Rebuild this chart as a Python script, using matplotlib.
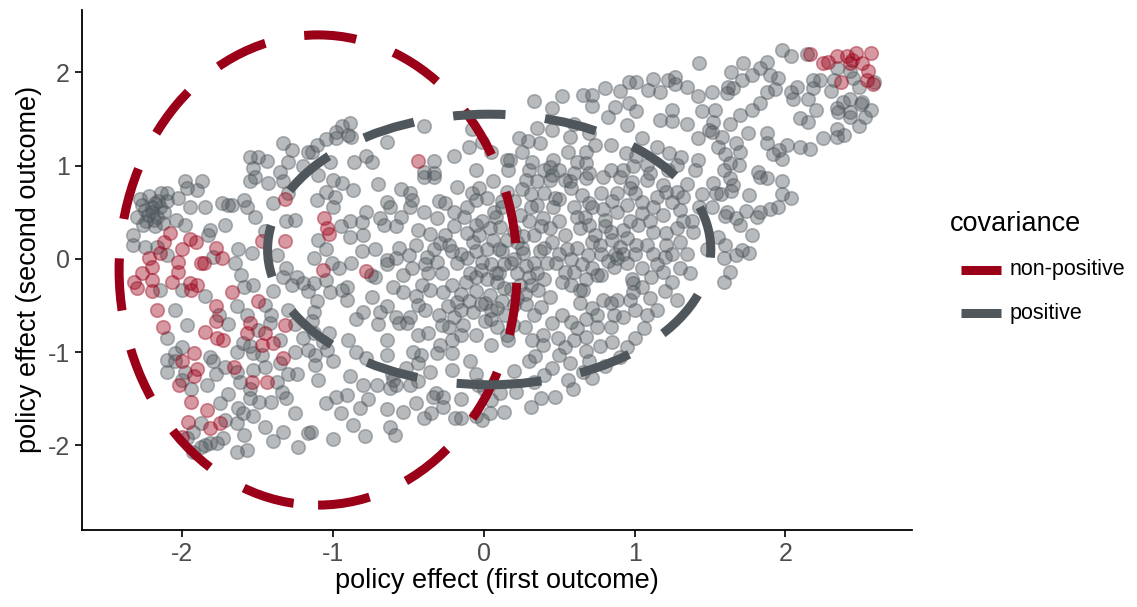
import matplotlib
matplotlib.use("Agg")
import numpy as np
from matplotlib import pyplot as plt
from matplotlib.patches import Ellipse
from matplotlib.lines import Line2D

plt.rcParams['font.family'] = ['Liberation Sans', 'DejaVu Sans']
plt.rcParams['axes.unicode_minus'] = False

RED = '#9a0018'
GREY = '#4f575c'

# simulated policy effects, (first outcome, second outcome)
positive_pts = [
    (-1.55, 1.09), (-1.50, 1.09), (-1.44, 1.05), (-1.33, 1.24), (-1.27, 1.17), (-1.53, 0.97),
    (-1.30, 1.04), (-1.20, 0.99), (-1.17, 1.14), (-1.35, 0.93),
    (-0.89, 1.46), (-0.94, 1.42), (-0.98, 1.36), (-0.90, 1.33), (-0.88, 1.31), (-1.05, 1.28),
    (-1.11, 1.22), (-0.98, 1.30), (-1.14, 1.14), (-1.02, 1.04), (-0.64, 1.25), (-0.40, 1.42),
    (-0.86, 1.04), (-0.78, 1.10), (-0.74, 1.04), (-0.33, 1.05), (-0.40, 0.93), (-0.33, 0.92),
    (-0.08, 1.39), (-0.01, 1.25), (-0.05, 0.95), (0.15, 1.06), (0.16, 0.95),
    (0.33, 1.69), (0.45, 1.62), (0.52, 1.74), (0.66, 1.76), (0.72, 1.76), (0.72, 1.64),
    (0.80, 1.83), (0.87, 1.63), (0.82, 1.52), (0.95, 1.43), (0.96, 1.67), (1.01, 1.58),
    (1.01, 1.90), (0.96, 1.89), (1.09, 1.81), (1.12, 1.93), (1.17, 1.79), (1.22, 1.92),
    (1.27, 1.95), (1.27, 1.87), (1.35, 1.84), (1.42, 1.74), (1.43, 2.10), (1.45, 1.58),
    (1.17, 1.49), (1.25, 1.60), (1.25, 1.48), (1.49, 1.38), (1.42, 1.30), (1.05, 1.29),
    (1.15, 1.20), (0.94, 1.13), (1.01, 1.10), (1.08, 1.01), (1.23, 1.13), (1.31, 1.09),
    (1.42, 1.06), (1.28, 1.01), (0.99, 0.99), (0.84, 1.22), (0.74, 1.22), (0.68, 1.15),
    (0.62, 1.04), (0.56, 1.15), (0.57, 1.31), (0.45, 1.38), (0.23, 1.30), (0.29, 1.26),
    (0.37, 1.24), (0.32, 1.04), (0.46, 1.06), (0.50, 0.95), (0.44, 0.98), (0.68, 1.03),
    (0.84, 0.95), (0.92, 0.95), (0.17, 1.06), (0.70, 0.92),
    (2.34, 2.05), (2.43, 2.01), (2.45, 1.94), (2.49, 1.84), (2.59, 1.90), (2.32, 1.92),
    (2.23, 1.92), (1.98, 2.24), (2.04, 2.17), (2.14, 2.19), (1.72, 2.10), (1.88, 2.11),
    (1.83, 2.05), (1.78, 1.97), (1.64, 2.00), (1.71, 1.92), (1.90, 1.97), (1.95, 1.94),
    (1.62, 1.84), (1.65, 1.83), (1.61, 1.78), (1.51, 1.79), (1.88, 1.79), (1.93, 1.82),
    (2.04, 1.79), (2.08, 1.84), (2.05, 1.71), (2.15, 1.71), (2.18, 1.92), (2.18, 1.83),
    (1.83, 1.67), (1.78, 1.60), (1.70, 1.54), (1.53, 1.60), (1.52, 1.47), (1.63, 1.44),
    (1.58, 1.31), (1.51, 1.36), (2.10, 1.51), (2.15, 1.47), (1.88, 1.35), (1.88, 1.24),
    (2.01, 1.22), (1.96, 1.17), (1.92, 1.12), (1.98, 1.07), (2.10, 1.20), (2.16, 1.18),
    (2.25, 1.29), (2.34, 1.39), (2.34, 1.31), (2.39, 1.33), (2.49, 1.42), (2.53, 1.52),
    (2.57, 1.60), (2.51, 1.68), (2.50, 1.66), (2.43, 1.71), (2.38, 1.68), (2.34, 1.62),
    (2.35, 1.57), (2.43, 1.57), (2.43, 1.52), (1.60, 1.12), (1.63, 1.03), (1.69, 1.01),
    (1.59, 0.95), (1.82, 0.93), (1.67, 1.24),
    (1.52, 0.81), (1.57, 0.69), (1.54, 0.70), (1.63, 0.87), (1.65, 0.79), (1.64, 0.73),
    (1.83, 0.88), (1.88, 0.87), (1.98, 0.83), (1.76, 0.68), (1.98, 0.69), (2.04, 0.65),
    (1.95, 0.56), (1.90, 0.53), (1.83, 0.50), (1.81, 0.45), (1.74, 0.51), (1.51, 0.55),
    (1.61, 0.50), (1.60, 0.46), (1.67, 0.44), (1.70, 0.36), (1.78, 0.25), (1.55, 0.23),
    (1.60, 0.15), (1.67, 0.04), (1.71, 0.09), (1.76, 0.06), (1.59, 0.01), (1.63, -0.14),
    (1.59, -0.25),
    (0.28, 0.85), (0.35, 0.83), (0.44, 0.85), (0.54, 0.85), (0.57, 0.83), (0.68, 0.87),
    (0.79, 0.88), (0.90, 0.88), (1.08, 0.85), (1.19, 0.79), (1.28, 0.72), (1.32, 0.66),
    (1.45, 0.69), (1.43, 0.55), (1.38, 0.40), (1.39, 0.29), (1.48, 0.10), (0.31, 0.69),
    (0.31, 0.55), (0.47, 0.65), (0.50, 0.64), (0.58, 0.76), (0.70, 0.60), (0.72, 0.55),
    (0.79, 0.53), (0.88, 0.71), (0.97, 0.76), (1.05, 0.61), (1.05, 0.49), (1.15, 0.66),
    (1.21, 0.72), (1.25, 0.61), (1.19, 0.47), (0.44, 0.33), (0.50, 0.40), (0.54, 0.26),
    (0.62, 0.45), (0.64, 0.33), (0.70, 0.36), (0.72, 0.18), (0.77, 0.15), (0.84, 0.29),
    (0.92, 0.31), (0.97, 0.40), (1.02, 0.36), (1.10, 0.40), (1.12, 0.29), (1.21, 0.28),
    (1.28, 0.33), (1.32, 0.40), (1.01, 0.15), (1.08, 0.15), (1.21, 0.15), (1.20, 0.02),
    (1.15, -0.06), (1.19, -0.14), (1.30, -0.10), (1.37, -0.15), (1.28, -0.44), (0.26, 0.06),
    (0.37, 0.08), (0.33, 0.26), (0.26, 0.24), (0.33, -0.04), (0.35, -0.15), (0.31, -0.28),
    (0.44, -0.41), (0.54, -0.14), (0.60, -0.14), (0.65, -0.06), (0.69, 0.04), (0.75, -0.17),
    (0.78, -0.17), (0.86, -0.09), (0.88, 0.01), (0.90, 0.13), (0.87, 0.05), (0.99, -0.26),
    (0.98, -0.22), (1.05, -0.30), (1.11, -0.19), (0.99, -0.36), (0.64, -0.33), (0.66, -0.33),
    (0.64, -0.47), (0.72, -0.53), (0.79, -0.44), (0.88, -0.44), (0.84, -0.47), (0.97, -0.44),
    (0.75, -0.60), (0.86, -0.60), (1.08, -0.60), (0.52, -0.60), (0.33, -0.60), (0.24, -0.28),
    (0.22, -0.42), (0.46, 0.55), (0.39, 0.44), (0.67, 0.45), (0.80, 0.42), (0.88, 0.50),
    (-1.10, 0.90), (-1.00, 0.85), (-0.94, 0.81), (-0.87, 0.74), (-1.05, 0.72), (-0.99, 0.66),
    (-1.11, 0.63), (-1.00, 0.56), (-0.64, 0.61), (-0.62, 0.56), (-0.49, 0.71), (-0.48, 0.63),
    (-0.49, 0.55), (-0.40, 0.88), (-0.33, 0.88), (-0.18, 0.77), (-0.03, 0.76), (-0.05, 0.63),
    (0.06, 0.83), (-0.26, 0.60), (-0.11, 0.55), (-0.13, 0.45), (-0.78, 0.50), (-0.69, 0.44),
    (-0.66, 0.36), (-0.58, 0.35), (-0.89, 0.40), (-0.81, 0.39), (-0.89, 0.23), (-0.81, 0.08),
    (-1.10, 0.20), (-1.05, 0.10), (-1.13, 0.01), (-1.01, -0.04), (-0.96, -0.10), (-1.05, -0.23),
    (-1.13, -0.26), (-1.02, -0.36), (-0.91, -0.30), (-0.94, -0.33), (-1.11, -0.45), (-0.91, -0.44),
    (-1.13, -0.57), (-0.80, -0.57), (-0.74, -0.41), (-0.72, -0.20), (-0.75, -0.17), (-0.69, -0.57),
    (-0.64, -0.51), (-0.64, -0.06), (-0.64, -0.01), (-0.56, 0.12), (-0.50, 0.04), (-0.54, -0.17),
    (-0.58, 0.01), (-0.44, 0.31), (-0.36, 0.27), (-0.31, 0.44), (-0.26, 0.26), (-0.29, 0.17),
    (-0.23, 0.15), (-0.21, 0.08), (-0.38, 0.02), (-0.39, -0.06), (-0.31, -0.03), (-0.37, -0.15),
    (-0.28, -0.15), (-0.11, 0.28), (-0.05, 0.36), (-0.01, 0.40), (0.04, 0.33), (0.11, 0.34),
    (-0.07, 0.18), (-0.05, 0.08), (-0.11, 0.01), (-0.01, -0.03), (0.05, -0.06), (0.12, 0.08),
    (0.13, -0.06), (-0.09, -0.15), (-0.05, -0.20), (0.09, -0.25), (0.13, -0.31), (0.04, -0.39),
    (-0.05, -0.35), (-0.21, -0.28), (-0.27, -0.36), (-0.41, -0.28), (-0.36, -0.33), (-0.54, -0.36),
    (-0.44, -0.49), (-0.39, -0.55), (-0.24, -0.51), (-0.18, -0.46), (-0.15, -0.55), (-0.07, -0.57),
    (0.01, -0.47), (0.09, -0.53), (0.14, -0.60), (-0.49, -0.62), (-0.58, -0.62),
    (-2.28, 0.64), (-2.22, 0.67), (-2.18, 0.60), (-2.15, 0.55), (-2.20, 0.50), (-2.25, 0.52),
    (-2.30, 0.45), (-2.24, 0.40), (-2.17, 0.45), (-2.12, 0.50), (-2.10, 0.62), (-2.14, 0.70),
    (-2.20, 0.56), (-2.26, 0.36), (-2.18, 0.35), (-2.13, 0.38), (-2.23, 0.47), (-2.27, 0.58),
    (-2.19, 0.42), (-2.16, 0.62), (-2.03, 0.65), (-2.04, 0.42), (-1.98, 0.36), (-2.33, 0.26),
    (-2.33, 0.15), (-2.25, 0.13), (-2.17, 0.13), (-2.10, 0.04), (-1.98, 0.83), (-1.87, 0.83),
    (-1.97, 0.76), (-1.90, 0.74), (-2.10, 0.71), (-1.82, 0.31), (-1.83, 0.26), (-1.80, 0.02),
    (-1.72, 0.36), (-1.70, 0.58), (-1.74, 0.60), (-1.67, 0.58), (-1.59, 0.63), (-1.57, 0.55),
    (-1.52, 0.45), (-1.55, 0.83), (-1.52, 0.88), (-1.43, 0.81), (-1.33, 0.83), (-1.31, 0.40),
    (-1.25, 0.42), (-1.63, 0.10), (-1.54, 0.06), (-1.37, 0.04), (-1.31, -0.10), (-1.24, -0.19),
    (-1.33, -0.20), (-1.27, -0.28), (-1.20, -0.26), (-1.17, -0.35), (-1.61, -0.17), (-1.53, -0.28),
    (-1.59, -0.30), (-2.15, -0.33), (-2.00, -0.33), (-1.41, -0.60), (-1.57, -0.60), (-1.64, -0.51),
    (-1.76, -0.60),
    (-1.97, -0.71), (-1.42, -0.69), (-1.50, -0.76), (-1.60, -0.90), (-1.64, -1.00), (-1.55, -0.93),
    (-2.00, -0.95), (-2.05, -1.01), (-2.10, -1.08), (-2.10, -1.21), (-1.98, -1.21), (-1.82, -1.05),
    (-1.80, -1.10), (-1.78, -1.24), (-1.84, -1.35), (-1.94, -1.40), (-1.72, -1.16), (-1.64, -1.21),
    (-1.62, -1.32), (-1.53, -1.19), (-1.53, -1.01), (-1.47, -1.03), (-1.45, -1.16), (-1.55, -1.40),
    (-1.55, -1.49), (-1.49, -1.54), (-1.63, -1.60), (-1.60, -1.65), (-1.53, -1.69), (-1.41, -1.54),
    (-1.35, -1.12), (-1.37, -1.32), (-1.34, -1.43), (-1.31, -1.49), (-1.30, -1.24), (-1.17, -0.98),
    (-1.17, -1.87), (-1.23, -2.02), (-1.33, -1.86), (-1.45, -1.80), (-1.57, -2.05), (-1.64, -2.07),
    (-1.59, -1.89), (-1.64, -1.76), (-1.72, -1.73), (-1.77, -1.97), (-1.82, -1.97), (-1.85, -2.00),
    (-1.88, -2.02), (-1.93, -2.07), (-1.88, -1.76), (-1.93, -1.86), (-1.97, -1.92), (-1.73, -1.92),
    (-2.05, -1.10), (-2.00, -1.30), (-1.24, -1.24), (-1.35, -0.87),
    (-1.14, -0.67), (-1.13, -0.80), (-1.03, -0.80), (-1.07, -0.89), (-1.04, -0.98), (-1.12, -1.03),
    (-1.12, -1.14), (-0.90, -0.87), (-0.64, -0.87), (-0.64, -1.03), (-0.78, -1.06), (-0.89, -1.26),
    (-0.71, -1.35), (-0.61, -1.24), (-0.62, -1.38), (-0.58, -1.35), (-0.91, -1.46), (-0.98, -1.48),
    (-0.77, -1.50), (-0.82, -1.60), (-0.64, -1.61), (-0.54, -1.64), (-0.87, -1.78), (-0.79, -1.90),
    (-1.00, -1.93), (-0.62, -1.80), (-0.59, -1.89), (-0.40, -1.71), (-1.15, -1.86), (-0.51, -0.69),
    (-0.44, -0.82), (-0.37, -0.80), (-0.56, -0.69), (-0.28, -0.71), (-0.23, -0.73), (-0.14, -0.71),
    (-0.05, -0.82), (0.01, -0.67), (0.09, -0.73), (0.15, -0.82), (-0.29, -0.92), (-0.21, -0.87),
    (-0.21, -1.01), (-0.31, -1.01), (-0.47, -1.00), (-0.42, -1.03), (-0.44, -1.12), (-0.52, -1.17),
    (-0.60, -1.30), (-0.49, -1.35), (-0.44, -1.31), (-0.36, -1.21), (-0.21, -1.19), (-0.09, -1.10),
    (-0.05, -1.24), (-0.04, -1.35), (-0.34, -1.48), (-0.27, -1.48), (-0.27, -1.59), (-0.32, -1.44),
    (-0.19, -1.71), (-0.15, -1.71), (-0.05, -1.69), (-0.01, -1.73), (0.04, -1.65), (0.05, -1.51),
    (0.13, -1.64), (0.11, -1.44), (-0.15, -0.82), (0.05, -0.92),
    (0.19, -0.71), (0.27, -0.73), (0.16, -0.87), (0.32, -0.87), (0.39, -0.82), (0.39, -0.92),
    (0.34, -1.04), (0.45, -0.69), (0.49, -0.85), (0.54, -0.95), (0.50, -1.03), (0.62, -0.74),
    (0.60, -0.87), (0.68, -0.84), (0.68, -0.99), (0.77, -0.93), (0.75, -0.73), (0.84, -0.73),
    (0.85, -0.89), (1.06, -0.74), (0.45, -1.17), (0.57, -1.12), (0.56, -1.30), (0.59, -1.40),
    (0.66, -1.21), (0.72, -1.28), (0.33, -1.32), (0.21, -1.43), (0.38, -1.49), (0.47, -1.48),
    (0.31, -1.59),
    # denser centre of the cloud
    (0.20, 0.30), (0.22, 0.18), (0.25, 0.12), (0.20, 0.00), (0.28, -0.08), (0.22, -0.15),
    (0.30, -0.20), (0.18, -0.32), (0.27, -0.38), (0.36, -0.33), (0.40, -0.22), (0.42, -0.05),
    (0.40, 0.12), (0.45, 0.18), (0.38, 0.35), (0.30, 0.40), (0.24, 0.47), (0.35, 0.58),
    (0.40, 0.70), (0.25, 0.75), (0.20, 0.62), (0.45, 0.90), (0.15, 0.72), (0.12, 0.55),
    (0.08, 0.45), (0.15, 0.20), (0.10, 0.10), (0.18, -0.05), (0.08, -0.15), (0.02, -0.22),
    (0.20, -0.50), (0.28, -0.48), (0.38, -0.52), (0.12, -0.45), (0.05, -0.55), (-0.02, -0.48),
    (0.55, 0.10), (0.58, 0.00), (0.62, 0.12), (0.50, 0.05), (0.48, -0.05), (0.52, -0.25),
    (0.58, -0.28), (0.68, -0.22), (0.72, -0.10), (0.78, 0.05), (0.82, -0.02), (0.74, 0.25),
    (0.80, 0.35), (0.85, 0.20), (0.92, 0.05), (0.95, -0.05), (0.95, 0.22), (1.00, 0.05),
    (1.05, -0.10), (1.12, 0.05), (1.25, 0.05), (1.30, 0.18), (1.35, 0.05), (1.25, -0.25),
    (1.20, -0.35), (1.10, -0.42), (1.15, -0.55), (1.00, -0.55), (0.92, -0.62), (0.68, -0.65),
    (0.58, -0.68), (0.60, 0.55), (0.65, 0.68), (0.78, 0.70), (0.85, 0.62), (0.95, 0.58),
    (1.00, 0.70), (1.12, 0.55), (1.30, 0.52), (1.35, 0.80), (1.40, 0.95), (1.22, 0.95),
    (1.10, 0.92), (0.98, 0.82), (0.60, 0.92), (0.40, 0.95), (0.30, 0.95),
    (-0.20, 0.35), (-0.15, 0.05), (-0.18, -0.05), (-0.12, -0.25), (-0.15, -0.38), (-0.02, -0.12),
    (0.02, 0.10), (0.06, 0.20), (-0.03, 0.25), (0.10, -0.15), (0.07, 0.50), (0.02, 0.65),
    (0.12, 0.62), (-0.08, 0.70), (-0.20, 0.50), (-0.30, 0.62), (-0.40, 0.50), (-0.45, 0.15),
    (-0.33, 0.10), (-0.48, -0.10), (-0.45, -0.40), (-0.30, -0.60), (-0.20, -0.62), (-0.10, -0.45),
    (0.05, -0.65), (-0.60, -0.30), (-0.70, -0.70), (-0.85, -0.65), (-0.55, 0.75), (-0.70, 0.80),
    (-0.80, 0.25), (-0.72, 0.10), (-0.88, -0.05), (-0.95, 0.35), (-0.55, 0.45),
    (-0.20, 1.10), (-0.10, 1.20), (0.05, 1.15), (0.25, 1.15), (0.35, 1.40), (0.60, 1.45),
    (0.70, 1.35), (1.35, 1.45), (1.55, 1.20), (1.70, 1.15), (1.75, 1.35), (2.20, 1.60),
    (2.30, 1.80), (0.90, 1.80),
    (-1.40, -0.35), (-1.45, -0.50), (-1.30, -0.55), (-1.25, -0.70), (-1.20, -0.85), (-1.25, -1.00),
    (-1.10, -1.30), (-1.00, -1.10), (-0.85, -1.00), (-0.80, -1.35), (-0.95, -1.65), (-1.05, -1.55),
    (-1.25, -1.65), (-1.40, -1.95), (-1.70, -1.45), (-1.75, -1.55), (-1.70, -0.70), (-1.85, -0.40),
    (-2.05, -0.55), (-2.10, -0.85), (-1.65, -0.05), (-1.45, 0.30), (-1.40, 0.60), (-1.30, 0.70),
    (-1.85, 0.55), (-1.95, 0.55),
    (-0.35, -1.65), (-0.45, -1.55), (-0.15, -1.50), (0.00, -1.40), (0.20, -1.20), (0.30, -1.10),
    (0.40, -1.25), (0.70, -1.10), (0.80, -1.15), (0.95, -0.95), (1.00, -0.85), (0.90, -1.05),
]

nonpositive_pts = [
    (-0.44, 1.05), (2.16, 2.19), (2.25, 2.10), (2.28, 2.11), (2.34, 2.17), (2.41, 2.17),
    (2.44, 2.13), (2.47, 2.21), (2.57, 2.21), (2.51, 2.10), (2.55, 2.01), (2.54, 1.92),
    (2.58, 1.87), (2.37, 1.90), (2.43, 2.10),
    (-1.06, 0.44), (-1.04, 0.33), (-1.03, 0.27), (-1.07, -0.12), (-0.78, -0.13),
    (-1.32, 0.64), (-2.08, 0.28), (-2.12, 0.18), (-1.95, 0.21), (-1.91, 0.18), (-2.00, 0.10),
    (-2.15, 0.06), (-2.22, 0.01), (-2.20, -0.09), (-2.27, -0.15), (-2.32, -0.25), (-2.30, -0.31),
    (-2.20, -0.23), (-2.03, -0.03), (-2.03, -0.14), (-2.07, -0.25), (-2.20, -0.35), (-2.17, -0.55),
    (-1.95, -0.26), (-1.90, -0.28), (-1.88, -0.05), (-1.86, -0.04), (-1.78, 0.12), (-1.74, 0.01),
    (-1.67, -0.36), (-1.78, -0.51), (-1.50, -0.45), (-1.47, 0.19), (-1.32, 0.19), (-1.94, -0.33),
    (-2.13, -0.73), (-1.85, -0.78), (-1.77, -0.85), (-1.73, -0.87), (-1.78, -0.67), (-1.57, -0.80),
    (-1.55, -0.69), (-1.45, -0.80), (-1.47, -0.92), (-1.40, -0.90), (-1.32, -0.71), (-1.92, -1.01),
    (-2.00, -1.10), (-1.90, -1.18), (-1.92, -1.26), (-2.02, -1.35), (-1.94, -1.53), (-1.84, -1.62),
    (-1.96, -1.75), (-1.82, -1.81), (-2.00, -1.91), (-1.66, -1.16), (-1.54, -1.32), (-1.44, -1.32),
    (-1.33, -1.06), (-1.75, -1.76),
]

# dashed ellipses: centre (x, y), full width, full height
ellipse_labels = ['non-positive', 'positive']
ellipse_centres = [(-1.10, -0.12), (0.035, 0.10)]
ellipse_widths = [2.64, 2.94]
ellipse_heights = [5.04, 2.90]
ellipse_colours = [RED, GREY]

fig = plt.figure(figsize=(11.37, 6.07), dpi=100)
ax = fig.add_axes([0.072, 0.127, 0.730, 0.857])

px, py = np.array(positive_pts).T
nx, ny = np.array(nonpositive_pts).T
ax.scatter(px, py, s=95, color=GREY, alpha=0.4, linewidths=1.2, zorder=2)
ax.scatter(nx, ny, s=95, color=RED, alpha=0.4, linewidths=1.2, zorder=3)

for c, w, h, col in zip(ellipse_centres, ellipse_widths, ellipse_heights, ellipse_colours):
    e = Ellipse(c, w, h, fill=False, edgecolor=col, linewidth=6.5,
                linestyle=(0, (5.8, 4.4)), zorder=4)
    ax.add_patch(e)

ax.set_xlim(-2.667, 2.839)
ax.set_ylim(-2.906, 2.670)
ax.set_xticks([-2, -1, 0, 1, 2])
ax.set_yticks([-2, -1, 0, 1, 2])
for s in ['top', 'right']:
    ax.spines[s].set_visible(False)
for s in ['left', 'bottom']:
    ax.spines[s].set_linewidth(1.3)
ax.tick_params(labelsize=18, labelcolor='#4d4d4d', length=5, width=1.2)
ax.set_xlabel('policy effect (first outcome)', fontsize=19.5, labelpad=2)
ax.set_ylabel('policy effect (second outcome)', fontsize=19.5, labelpad=4)

# legend drawn by hand in figure coordinates
W, H = 1137, 607
fig.text(950 / W, 1 - 224 / H, 'covariance', fontsize=19.5, va='center', ha='left')
for i, (lab, col) in enumerate(zip(ellipse_labels, ellipse_colours)):
    yk = 1 - (270 + 43 * i) / H
    fig.add_artist(Line2D([961 / W, 1001 / W], [yk, yk], color=col, lw=6.5,
                          solid_capstyle='butt', transform=fig.transFigure))
    fig.text(1010 / W, yk, lab, fontsize=15.5, va='center', ha='left')

fig.savefig('out.png', dpi=100)
